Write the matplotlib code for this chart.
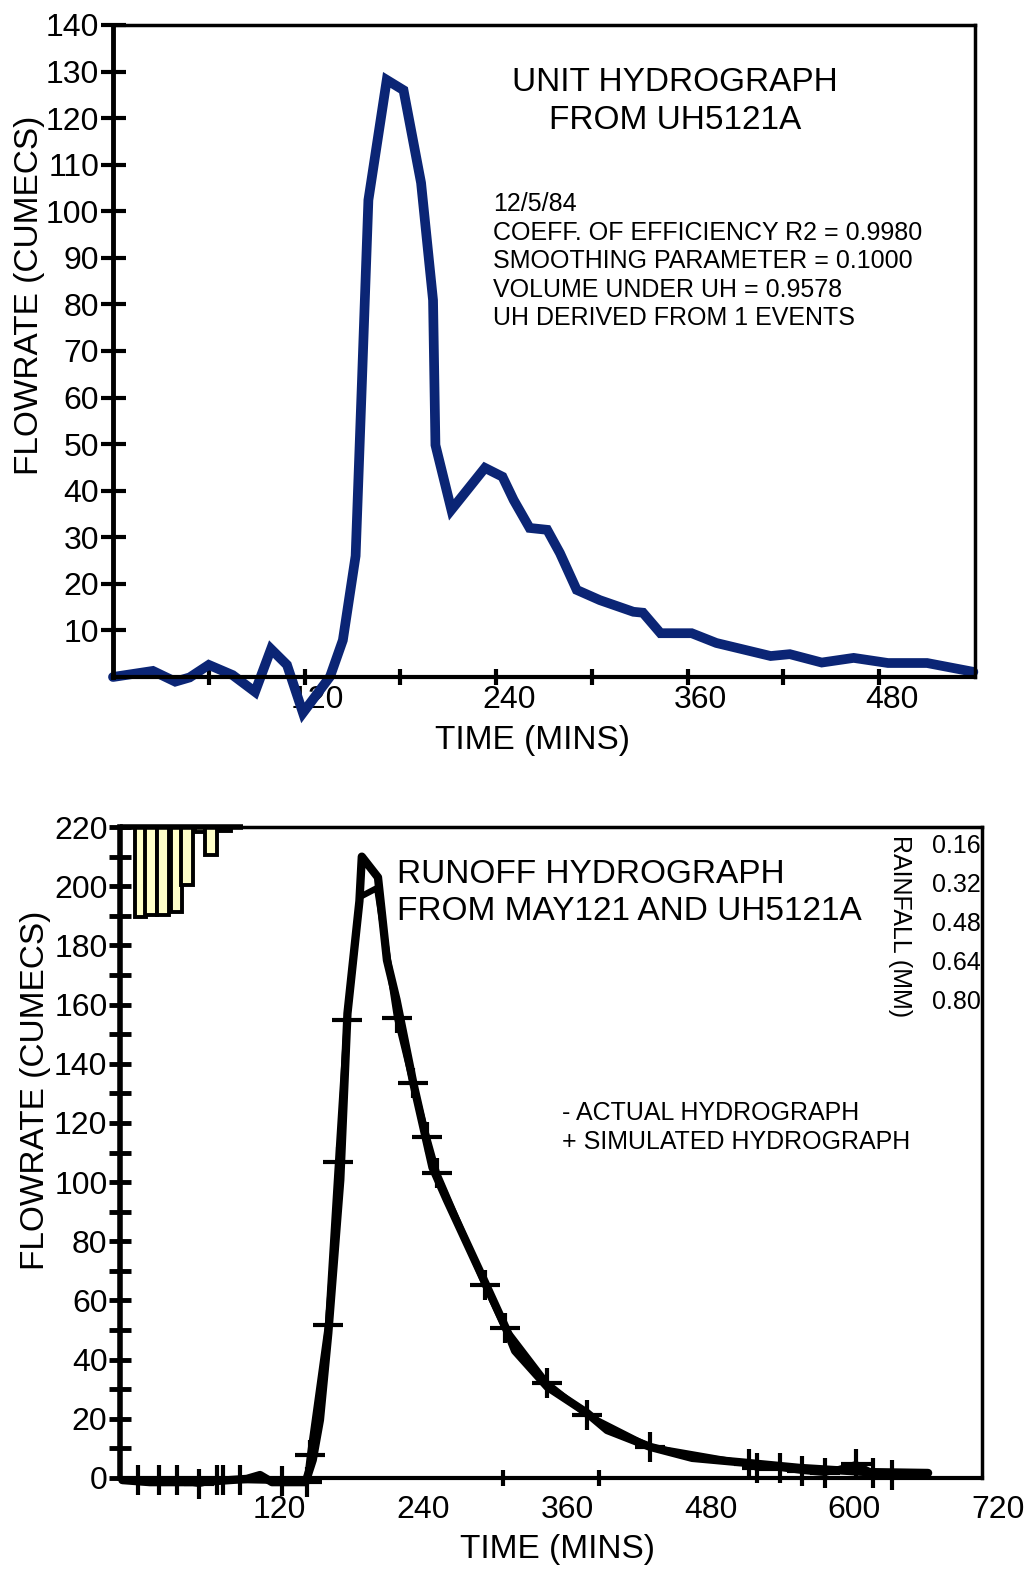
import matplotlib
matplotlib.use("Agg")
import matplotlib.pyplot as plt
from matplotlib.transforms import ScaledTranslation

plt.rcParams['font.family'] = ['Liberation Sans', 'DejaVu Sans']

### Data ###

# unit hydrograph (top)
uh_t = [0, 25, 39, 48, 60, 75, 89, 99, 109, 119, 136, 144, 152, 156, 160, 171.5,
        182, 193, 200.5, 202, 212, 233, 244, 251, 261, 272, 280, 290.5, 305, 326,
        332, 343, 362.5, 378, 412, 424, 444, 464, 485.5, 510, 539]
uh_q = [0, 1.3, -1.0, -0.1, 2.6, 0.4, -3.2, 6.0, 2.6, -7.7, 0.1, 7.9, 26.0, 63.8,
        102.4, 128.2, 126.0, 106.1, 80.9, 49.8, 35.9, 44.9, 43.0, 38.0, 32.0, 31.6,
        26.6, 18.7, 16.5, 14.0, 13.8, 9.4, 9.4, 7.3, 4.5, 4.9, 3.1, 4.1, 3.0, 3.0, 1.1]

# runoff hydrograph (bottom) - actual
act_t = [2, 25, 67, 106, 117, 127, 155, 161, 167, 174, 184, 190, 200, 202, 215.5,
         223, 231, 245, 261, 273, 305, 323, 330, 357, 390, 407, 443, 478, 524, 568,
         624, 675]
act_q = [-0.7, -1.4, -1.4, -0.3, 1.0, -1.4, -1.4, 6.1, 19.6, 49, 100.7, 157, 195,
         210, 203, 175, 161.6, 133.5, 105, 94, 66, 50, 43, 30.8, 22, 16.2, 10.5, 6.8,
         5.1, 3.4, 2.0, 1.7]

# simulated
sim_t = [15, 32.6, 47.6, 66, 81, 86, 100, 135, 156, 158.7, 173.7, 182.1, 189.6,
         200.5, 214.7, 231.4, 244.7, 256.4, 264.8, 304.9, 321.6, 356.7, 390.1, 442.7,
         525.4, 532.1, 551.3, 569.7, 588.9, 614.8, 629.0, 644.9]
sim_q = [-0.7, -0.7, -0.7, -2.0, -0.7, -0.7, -0.7, -1.0, -1.4, 7.8, 51.7, 106.8,
         154.8, 196.4, 199.4, 155.5, 133.5, 115.3, 103.1, 65.2, 50.7, 32.1, 21.3,
         10.5, 4.7, 3.4, 3.4, 2.4, 1.7, 4.7, 1.7, 1.0]
sim_peak = [13, 14]  # vertices without a + mark

# rainfall (mm)
rain_t = [17, 26, 36, 47, 56, 67, 76, 88]
rain_mm = [0.464, 0.455, 0.455, 0.443, 0.332, 0.115, 0.209, 0.111]

rain_ticks = [0.16, 0.32, 0.48, 0.64, 0.80]
uh_notes = ["12/5/84",
            "COEFF. OF EFFICIENCY R2 = 0.9980",
            "SMOOTHING PARAMETER = 0.1000",
            "VOLUME UNDER UH = 0.9578",
            "UH DERIVED FROM 1 EVENTS"]

navy = "#0B2575"

fig = plt.figure(figsize=(10.29, 15.70), dpi=100)

### Top: unit hydrograph ###
ax = fig.add_axes([0.1098, 0.5688, 0.8377, 0.4153])
ax.plot(uh_t, uh_q, color=navy, lw=7, solid_joinstyle='miter',
        solid_capstyle='round', clip_on=False)
ax.set_xlim(0, 540)
ax.set_ylim(0, 140)
ax.set_xticks([120, 240, 360, 480])
ax.set_xticks([60, 180, 300, 420], minor=True)
ax.set_yticks(range(10, 141, 10))
ax.tick_params(axis='both', which='both', direction='inout', width=3, color='black')
ax.tick_params(axis='y', length=18, labelsize=23, pad=1)
ax.tick_params(axis='x', which='both', length=11, labelsize=23, pad=0)
for s in ax.spines.values():
    s.set_linewidth(2.5)
ax.spines['left'].set_linewidth(3.5)
ax.spines['bottom'].set_linewidth(3)
ax.set_xlabel("TIME (MINS)", fontsize=24)
ax.xaxis.set_label_coords(0.487, -0.073)
ax.set_ylabel("FLOWRATE (CUMECS)", fontsize=24)
ax.yaxis.set_label_coords(-0.079, 0.586)

ax.text(0.652, 0.911, "UNIT HYDROGRAPH", transform=ax.transAxes, ha='center',
        va='center', fontsize=24)
ax.text(0.652, 0.853, "FROM UH5121A", transform=ax.transAxes, ha='center',
        va='center', fontsize=24)
for i, line in enumerate(uh_notes):
    ax.text(0.441, 0.7255 - i * 0.0438, line, transform=ax.transAxes, ha='left',
            va='center', fontsize=18)

### Bottom: runoff hydrograph ###
bx = fig.add_axes([0.1166, 0.0586, 0.8377, 0.4146])
bx.plot(act_t, act_q, color='black', lw=6, solid_joinstyle='round',
        solid_capstyle='round', clip_on=False)
mark_idx = [i for i in range(len(sim_t)) if i not in sim_peak]
bx.plot(sim_t, sim_q, color='black', lw=4.5, marker='+', markersize=21,
        markeredgewidth=3, markevery=mark_idx, solid_joinstyle='round',
        clip_on=False)
bx.set_xlim(0, 720)
bx.set_ylim(0, 220)
bx.set_xticks(range(120, 721, 120))
bx.set_xticks([240, 320, 400, 480], minor=True)
bx.set_yticks(range(0, 221, 20))
bx.set_yticks(range(10, 220, 20), minor=True)
bx.tick_params(axis='x', which='major', length=0, labelsize=23, pad=12)
bx.tick_params(axis='x', which='minor', direction='inout', length=12, width=3)
bx.tick_params(axis='y', which='both', direction='inout', length=16, width=3.5,
               labelsize=23, pad=1)
for s in bx.spines.values():
    s.set_linewidth(2.5)
bx.spines['left'].set_linewidth(4)
bx.spines['bottom'].set_linewidth(3)
bx.set_xlabel("TIME (MINS)", fontsize=24)
bx.xaxis.set_label_coords(0.508, -0.086)
bx.set_ylabel("FLOWRATE (CUMECS)", fontsize=24)
bx.yaxis.set_label_coords(-0.080, 0.596)

bx.text(0.3213, 0.9278, "RUNOFF HYDROGRAPH", transform=bx.transAxes, ha='left',
        va='center', fontsize=24)
bx.text(0.3213, 0.871, "FROM MAY121 AND UH5121A", transform=bx.transAxes,
        ha='left', va='center', fontsize=24)
bx.text(0.5128, 0.5607, "- ACTUAL HYDROGRAPH", transform=bx.transAxes, ha='left',
        va='center', fontsize=18)
bx.text(0.5128, 0.5161, "+ SIMULATED HYDROGRAPH", transform=bx.transAxes,
        ha='left', va='center', fontsize=18)

# rainfall hangs from the top
rx = bx.twinx()
rx.bar(rain_t, rain_mm, width=9.5, color='#FFFFC8', edgecolor='black', lw=2.8)
rx.set_ylim(2.765, 0.094)
rx.hlines(rx.get_ylim()[1], 0, rain_t[-1] + 15, color='black', lw=4, clip_on=False)
rx.set_yticks(rain_ticks)
rx.set_yticklabels(["%.2f" % v for v in rain_ticks])
rx.tick_params(axis='y', length=0, labelsize=18, pad=-36)
for s in rx.spines.values():
    s.set_visible(False)
rx.text(0.905, 0.848, "RAINFALL (MM)", transform=bx.transAxes, rotation=-90,
        ha='center', va='center', fontsize=18)

# scanned labels sit a little right of their ticks
off = ScaledTranslation(0.13, 0, fig.dpi_scale_trans)
for lab in ax.get_xticklabels():
    lab.set_transform(lab.get_transform() + off)
off2 = ScaledTranslation(0.16, 0, fig.dpi_scale_trans)
for lab in bx.get_xticklabels():
    lab.set_transform(lab.get_transform() + off2)

plt.savefig("out.png", dpi=100)
